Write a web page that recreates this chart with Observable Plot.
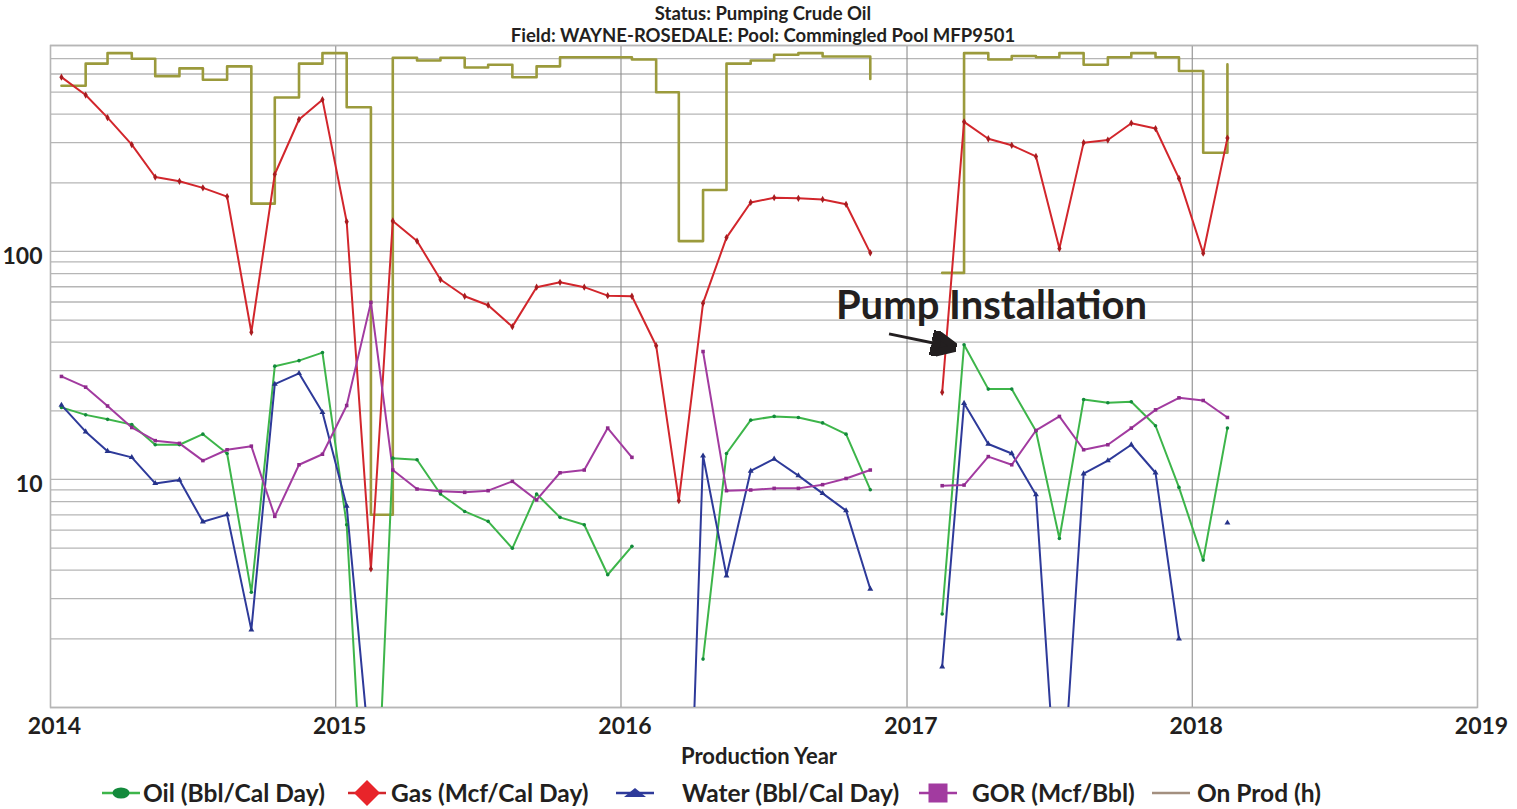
<!DOCTYPE html>
<html><head><meta charset="utf-8">
<script src="https://cdn.jsdelivr.net/npm/d3@7"></script>
<script src="https://cdn.jsdelivr.net/npm/@observablehq/plot@0.6"></script>
<style>
body{margin:0;background:#fff;font-family:Lato,"Open Sans",sans-serif;color:#231f20}
#wrap{position:relative;width:1517px;height:809px;overflow:hidden}
#title{position:relative;height:40px}
.t{position:absolute;left:0;width:1526px;text-align:center;font-weight:bold;white-space:nowrap;font-size:18.5px;line-height:22.2px;height:22.2px}
#legend{position:absolute;left:0;top:778px;width:1517px;height:30px}
.sw{position:absolute;top:0}
.lt{position:absolute;top:0px;font-weight:bold;font-size:24.5px;line-height:30px;white-space:nowrap}
</style></head>
<body><div id="wrap">
<div id="title">
 <div class="t" style="top:1.6px">Status: Pumping Crude Oil</div>
 <div class="t" style="top:23.9px">Field: WAYNE-ROSEDALE: Pool: Commingled Pool MFP9501</div>
</div>
<div id="chart"></div>
<div id="legend"></div>
</div>
<script>
// ---- data ----
const months = [
 "2014-01-15","2014-02-15","2014-03-15","2014-04-15","2014-05-15","2014-06-15","2014-07-15","2014-08-15","2014-09-15","2014-10-15","2014-11-15","2014-12-15",
 "2015-01-15","2015-02-15","2015-03-15","2015-04-15","2015-05-15","2015-06-15","2015-07-15","2015-08-15","2015-09-15","2015-10-15","2015-11-15","2015-12-15",
 "2016-01-15","2016-02-15","2016-03-15","2016-04-15","2016-05-15","2016-06-15","2016-07-15","2016-08-15","2016-09-15","2016-10-15","2016-11-15","2016-12-15",
 "2017-01-15","2017-02-15","2017-03-15","2017-04-15","2017-05-15","2017-06-15","2017-07-15","2017-08-15","2017-09-15","2017-10-15","2017-11-15","2017-12-15",
 "2018-01-15","2018-02-15"];
const oil = [
 20.7,19.2,18.35,17.4,14.2,14.2,15.8,13.0,3.2,31.4,33.2,36.0,
 6.33,0.08,12.4,12.2,8.64,7.24,6.55,4.99,8.64,6.82,6.33,3.82,
 5.09,null,null,1.63,13.0,18.2,18.9,18.7,17.7,15.8,9.02,null,
 null,2.57,39.0,24.9,24.9,16.3,5.51,22.4,21.7,21.9,17.2,9.23,
 4.43,16.8];
const gas = [
 581,485,386,294,212,203,190,174,44.2,218,379,463,
 135,4.05,136,111,75.3,63.6,58.1,46.8,69.7,73.2,69.7,64.0,
 63.6,38.6,8.07,59.3,115,164,172,171,169,161,98.6,null,
 null,24.1,370,312,292,261,103,300,308,365,346,209,
 98.2,314];
const water = [
 21.2,16.2,13.3,12.5,9.61,9.95,6.53,7.01,2.19,26.2,29.2,19.7,
 7.65,0.55,null,null,null,null,null,null,null,null,null,null,
 null,null,0.01,12.7,3.78,10.9,12.3,10.4,8.69,7.3,3.31,null,
 null,1.51,21.6,14.3,13.0,8.58,0.25,10.6,12.1,14.2,10.7,2.0,
 null,6.45];
const gor = [
 28.3,25.4,21.0,16.9,14.8,14.4,12.1,13.5,14.0,6.89,11.6,12.9,
 21.1,59.8,11.0,9.08,8.87,8.78,8.93,9.81,8.13,10.7,11.0,16.8,
 12.5,null,null,36.4,8.93,8.99,9.14,9.14,9.49,10.1,11.0,null,
 null,9.39,9.45,12.6,11.6,16.4,18.9,13.5,14.2,16.8,20.2,22.8,
 22.2,18.7];
const onProd = [
 533,666,741,700,587,635,566,648,162,473,666,741,
 429,7.0,707,688,707,641,659,581,648,711,711,711,
 695,499,111,186,666,688,729,741,716,716,570,null,
 null,80.5,741,695,719,711,741,659,711,741,711,618,
 271,661];
const yearTicks = ["2014-01-01","2015-01-01","2016-01-01","2017-01-01","2018-01-01","2019-01-01"];
const yLabelTicks = [10, 100];
const yGridValues = [1,2,3,4,5,6,7,8,9,10,20,30,40,50,60,70,80,90,100,200,300,400,500,600,700,800];
const seriesNames = ["Oil (Bbl/Cal Day)","Gas (Mcf/Cal Day)","Water (Bbl/Cal Day)","GOR (Mcf/Bbl)","On Prod (h)"];
const annotationText = [{date:"2016-10-02", value:57.5, label:"Pump Installation"}];
const annotationArrow = [{date1:"2016-12-09", value1:43.5, date2:"2017-03-02", value2:38.0}];

// ---- build table ----
const parse = d3.utcParse("%Y-%m-%d");
const rows = months.map((m,i)=>({date:parse(m), oil:oil[i], gas:gas[i], water:water[i], gor:gor[i], onProd:onProd[i]}));
const years = yearTicks.map(parse);
const txt = annotationText.map(d=>({...d, date:parse(d.date)}));
const arr = annotationArrow.map(d=>({...d, date1:parse(d.date1), date2:parse(d.date2)}));

const C = {oil:"#3db54a", oilM:"#138a3c", gas:"#d2262c", gasM:"#a81c20", water:"#2e3a9a", waterM:"#26338a", gor:"#a23ba0", gorM:"#8e2a8c", onProd:"#9b9a3c", onProdLeg:"#a38f7f"};

function filledArrow(color){
  const m = d3.create("svg:marker")
    .attr("viewBox","0 0 10 10").attr("refX",9).attr("refY",5)
    .attr("markerWidth",8.5).attr("markerHeight",8.5).attr("orient","auto");
  m.append("path").attr("d","M0,0.3L10,5L0,9.7L2.2,5Z").attr("fill","#231f20");
  return m.node();
}

const chart = Plot.plot({
  width:1517, height:730,
  marginLeft:50, marginRight:40, marginTop:5, marginBottom:63,
  style:{fontFamily:"Lato, 'Open Sans', sans-serif", fontWeight:"bold", color:"#231f20", background:"#fff"},
  x:{type:"utc", domain:[parse("2014-01-01"), parse("2019-01-01")]},
  y:{type:"log", domain:[1,800]},
  marks:[
    Plot.ruleY(yGridValues, {stroke:"#b6b6b6", strokeWidth:1.3}),
    Plot.ruleX(years, {stroke:"#8e8e8e", strokeWidth:1.1}),
    Plot.frame({stroke:"#b6b6b6", strokeWidth:1.5}),
    Plot.line(rows, {x:"date", y:"onProd", curve:"step-after", stroke:C.onProd, strokeWidth:2.6, clip:true}),
    Plot.line(rows, {x:"date", y:"gas", stroke:C.gas, strokeWidth:2, clip:true}),
    Plot.line(rows, {x:"date", y:"oil", stroke:C.oil, strokeWidth:2, clip:true}),
    Plot.line(rows, {x:"date", y:"water", stroke:C.water, strokeWidth:2, clip:true}),
    Plot.line(rows, {x:"date", y:"gor", stroke:C.gor, strokeWidth:2, clip:true}),
    Plot.dot(rows, {x:"date", y:"gas", symbol:"diamond", r:2.2, fill:C.gasM, clip:true}),
    Plot.dot(rows, {x:"date", y:"oil", symbol:"circle", r:1.8, fill:C.oilM, clip:true}),
    Plot.dot(rows, {x:"date", y:"water", symbol:"triangle", r:2.2, fill:C.waterM, clip:true}),
    Plot.dot(rows, {x:"date", y:"gor", symbol:"square", r:2, fill:C.gorM, clip:true}),
    Plot.axisX(years, {tickSize:0, tickPadding:10, fontSize:23, fontWeight:"bold", dx:4, tickFormat:"%Y"}),
    Plot.axisY(yLabelTicks, {tickSize:0, tickPadding:8, fontSize:23, fontWeight:"bold", dy:5, tickFormat:d=>String(d)}),
    Plot.text(["Production Year"], {frameAnchor:"bottom", dy:56, dx:-5, fontSize:22, fontWeight:"bold"}),
    Plot.text(txt, {x:"date", y:"value", text:"label", textAnchor:"start", fontSize:40, fontWeight:"bold", fill:"#231f20"}),
    Plot.link(arr, {x1:"date1", y1:"value1", x2:"date2", y2:"value2", stroke:"#231f20", strokeWidth:3, markerEnd:filledArrow})
  ]
});
document.getElementById("chart").appendChild(chart);

// ---- legend ----
const legendLayout = [
  {sw:102, tx:143, line:C.oil, mark:"ellipse", mc:C.oilM},
  {sw:348, tx:391, line:C.gas, mark:"diamond", mc:"#e8242a"},
  {sw:616, tx:682, line:C.water, mark:"triangle", mc:C.water},
  {sw:919, tx:972, line:C.gor, mark:"square", mc:C.gor},
  {sw:1152, tx:1197, line:C.onProdLeg, mark:null, mc:null}
];
const leg = d3.select("#legend");
legendLayout.forEach((L,i)=>{
  const s = leg.append("svg").attr("class","sw").attr("width",40).attr("height",30).style("left",L.sw+"px");
  s.append("line").attr("x1",0).attr("x2",38).attr("y1",15).attr("y2",15).attr("stroke",L.line).attr("stroke-width",2.5);
  if(L.mark==="ellipse") s.append("ellipse").attr("cx",19).attr("cy",15).attr("rx",8.5).attr("ry",5.5).attr("fill",L.mc);
  if(L.mark==="diamond") s.append("path").attr("d","M19,2L32,15L19,28L6,15Z").attr("fill",L.mc);
  if(L.mark==="triangle") s.append("path").attr("d","M19,10L30,19L8,19Z").attr("fill",L.mc);
  if(L.mark==="square") s.append("rect").attr("x",9.5).attr("y",5.5).attr("width",19).attr("height",19).attr("fill",L.mc);
  leg.append("div").attr("class","lt").style("left",L.tx+"px").text(seriesNames[i]);
});
</script>
</body></html>
